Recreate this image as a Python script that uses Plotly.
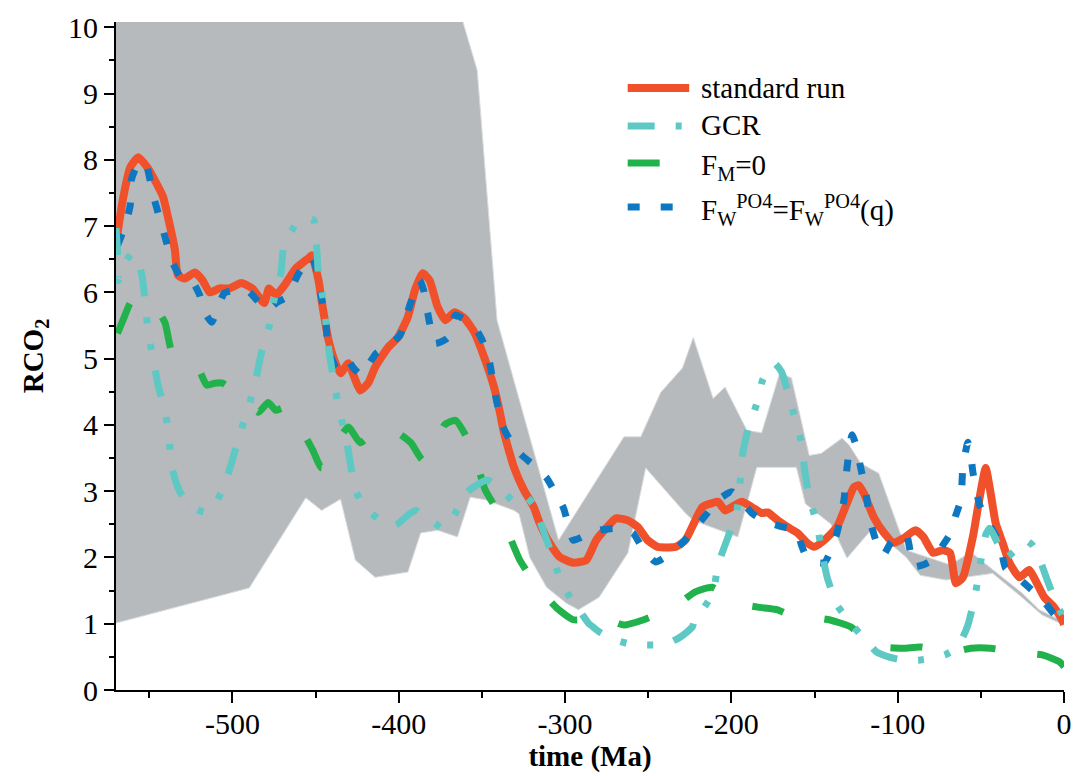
import plotly.graph_objects as go

# ---------------- data (time in Ma, values RCO2) ----------------
std_t = [-570.0,-565.6,-561.4,-556.6,-551.3,-547.7,-541.7,-538.7,-534.6,-532.8,-528.6,-522.6,-517.9,-513.7,-507.7,-501.8,-494.6,-488.1,-480.9,-478.0,-473.8,-467.8,-461.9,-454.1,-452.3,-448.2,-446.4,-442.2,-438.0,-435.0,-430.3,-426.1,-423.1,-418.4,-414.2,-406.4,-400.5,-394.5,-390.3,-385.6,-381.4,-376.6,-371.9,-366.5,-360.5,-354.6,-348.6,-342.7,-339.1,-336.7,-330.7,-324.8,-318.8,-315.3,-309.3,-303.3,-295.0,-287.2,-281.3,-275.3,-269.4,-262.2,-256.3,-250.3,-244.3,-233.6,-227.7,-221.7,-217.5,-211.6,-208.0,-203.8,-197.9,-193.7,-187.7,-181.8,-178.2,-172.2,-166.3,-160.3,-154.4,-150.2,-144.2,-136.5,-130.5,-126.3,-123.4,-120.4,-114.4,-108.5,-102.5,-96.5,-89.4,-84.6,-78.7,-72.7,-68.5,-65.0,-60.8,-54.8,-50.7,-47.1,-44.1,-41.1,-36.9,-32.8,-26.8,-20.9,-17.3,-11.9,-6.0,-1.2,0.0]
std_v = [6.74,7.44,7.89,8.04,7.89,7.74,7.44,7.13,6.64,6.26,6.21,6.30,6.18,6.00,6.06,6.06,6.14,6.06,5.84,6.06,5.96,6.14,6.36,6.52,6.56,6.18,5.88,5.28,4.93,4.78,4.93,4.68,4.52,4.63,4.87,5.17,5.32,5.63,6.03,6.29,6.18,5.78,5.58,5.70,5.61,5.40,5.02,4.57,4.18,3.88,3.36,3.02,2.76,2.52,2.22,2.01,1.92,1.96,2.26,2.44,2.59,2.56,2.46,2.26,2.16,2.16,2.26,2.56,2.76,2.82,2.84,2.71,2.79,2.84,2.76,2.67,2.68,2.56,2.46,2.37,2.22,2.16,2.26,2.46,2.82,3.06,3.09,2.97,2.61,2.38,2.22,2.29,2.41,2.31,2.07,2.11,2.07,1.61,1.70,2.31,2.91,3.35,2.97,2.52,2.22,1.92,1.70,1.81,1.66,1.40,1.25,1.06,0.99]

gcr_t = [-570.0,-569.1,-568.5,-564.4,-560.2,-556.6,-554.2,-552.4,-550.7,-547.7,-544.7,-540.5,-538.1,-536.4,-534.0,-531.6,-525.6,-516.7,-510.7,-504.8,-500.0,-495.8,-490.5,-485.7,-482.7,-478.0,-475.0,-470.8,-469.0,-464.2,-460.1,-455.3,-451.1,-449.3,-448.2,-445.2,-443.4,-442.2,-440.4,-438.6,-436.2,-432.0,-429.1,-426.1,-421.3,-416.6,-409.4,-401.7,-394.5,-389.7,-383.8,-378.4,-373.6,-367.7,-358.7,-346.8,-337.9,-330.7,-324.8,-318.8,-315.3,-309.3,-303.3,-296.2,-290.2,-286.0,-278.3,-269.4,-260.4,-252.7,-245.5,-237.8,-230.6,-223.5,-221.7,-216.3,-211.0,-208.0,-202.0,-196.7,-194.9,-193.7,-190.1,-184.1,-181.2,-177.0,-174.0,-169.8,-166.3,-162.1,-157.9,-156.1,-153.2,-148.4,-146.0,-142.4,-136.5,-131.1,-126.3,-119.2,-112.6,-105.5,-96.5,-87.6,-78.7,-71.5,-65.0,-60.8,-57.8,-53.6,-50.7,-47.1,-44.7,-41.7,-38.1,-35.2,-29.2,-23.2,-19.1,-16.1,-10.1,-4.2,0.0]
gcr_v = [6.97,6.61,6.18,6.46,6.59,6.46,6.23,5.84,5.40,5.01,4.60,4.21,3.79,3.36,3.14,2.99,2.79,2.68,2.79,3.09,3.47,3.85,4.25,4.71,5.08,5.48,5.88,6.30,6.74,6.94,7.09,7.13,7.09,6.67,6.23,5.88,5.46,5.17,4.87,4.63,4.25,3.85,3.42,3.02,2.79,2.67,2.53,2.49,2.64,2.71,2.59,2.52,2.44,2.59,2.99,3.17,3.02,2.84,2.94,2.79,2.56,2.14,1.70,1.36,1.16,1.01,0.86,0.75,0.69,0.68,0.68,0.71,0.80,0.95,1.09,1.25,1.46,1.89,2.31,2.71,3.09,3.50,3.92,4.37,4.68,4.86,4.93,4.80,4.52,4.12,3.74,3.35,2.91,2.49,2.14,1.70,1.28,1.10,0.95,0.75,0.57,0.50,0.45,0.45,0.48,0.53,0.63,0.80,0.98,1.40,1.84,2.34,2.44,2.31,2.11,1.99,2.11,2.26,2.19,2.07,1.66,1.28,1.09]

fm0_t = [-569.1,-565.0,-561.4,-557.2,-552.4,-546.5,-540.5,-536.4,-528.6,-520.9,-515.5,-510.7,-505.9,-496.5,-484.5,-478.5,-473.8,-470.2,-467.2,-460.1,-451.7,-446.4,-441.6,-436.2,-430.3,-423.1,-415.4,-403.5,-392.7,-385.6,-379.0,-372.5,-365.9,-355.8,-348.0,-337.9,-327.2,-315.9,-305.1,-295.0,-277.1,-264.6,-252.7,-235.4,-221.7,-211.6,-196.1,-184.1,-172.2,-162.1,-153.2,-141.2,-128.1,-119.2,-109.7,-96.5,-86.4,-67.9,-56.0,-44.1,-26.2,-13.1,-2.4,0.0]
fm0_v = [5.38,5.63,5.84,5.91,5.88,5.78,5.54,5.10,4.95,4.87,4.60,4.63,4.63,4.45,4.19,4.34,4.22,4.25,4.22,4.00,3.62,3.35,3.50,3.77,3.97,3.73,3.89,3.92,3.73,3.47,3.60,4.00,4.07,3.65,3.02,2.59,1.96,1.54,1.24,1.06,1.09,0.98,1.06,1.24,1.48,1.55,1.31,1.25,1.21,1.10,1.10,1.06,0.95,0.75,0.65,0.63,0.65,0.57,0.63,0.63,0.56,0.53,0.42,0.35]

po4_t = [-569.1,-564.4,-561.4,-560.8,-557.2,-552.4,-547.7,-541.7,-535.8,-530.4,-524.4,-519.7,-516.7,-512.5,-508.9,-504.8,-497.6,-491.1,-485.1,-479.1,-473.2,-467.2,-460.1,-452.3,-449.3,-447.0,-444.0,-442.2,-437.4,-434.4,-431.5,-427.3,-422.5,-418.4,-413.6,-406.4,-399.3,-393.3,-387.4,-385.0,-382.6,-378.4,-374.8,-370.7,-365.9,-359.9,-354.0,-349.8,-345.7,-342.1,-337.9,-333.1,-327.2,-318.8,-311.1,-305.1,-301.0,-298.0,-295.0,-287.2,-279.5,-269.4,-259.2,-252.7,-245.5,-237.8,-229.4,-221.7,-214.5,-208.0,-199.6,-193.7,-187.7,-183.0,-178.2,-169.2,-160.9,-157.9,-154.9,-150.2,-144.2,-140.0,-136.5,-132.3,-130.5,-127.5,-125.1,-122.8,-119.2,-116.2,-112.6,-108.5,-104.3,-100.7,-94.8,-92.4,-90.6,-84.6,-77.5,-72.7,-67.9,-65.0,-62.0,-60.8,-57.8,-56.0,-54.8,-50.7,-44.7,-38.7,-35.2,-29.2,-23.8,-17.3,-11.3,-5.4,0.0]
po4_v = [6.71,7.01,7.32,7.69,7.92,7.96,7.47,6.94,6.44,6.21,6.18,5.96,5.70,5.55,5.76,5.99,6.03,6.03,5.88,5.73,5.85,5.93,6.29,6.53,6.33,5.99,5.58,5.13,4.86,4.95,5.01,4.86,4.75,4.90,5.08,5.20,5.35,5.81,6.18,6.03,5.69,5.23,5.25,5.31,5.66,5.58,5.46,5.28,4.98,4.48,4.00,3.77,3.57,3.39,3.20,2.94,2.75,2.49,2.26,2.34,2.41,2.44,2.37,2.11,1.93,2.04,2.22,2.44,2.67,2.87,2.99,2.84,2.67,2.59,2.53,2.46,2.41,2.19,2.01,1.93,1.92,2.11,2.37,2.87,3.35,3.85,3.70,3.42,2.99,2.52,2.22,2.04,2.22,2.31,2.34,2.08,1.86,1.89,1.99,2.19,2.38,2.64,2.87,3.36,3.74,3.54,3.29,2.79,2.49,2.22,1.84,1.73,1.61,1.46,1.31,1.13,1.03]

band_up_t = [-570.0,-364.0,-352.8,-340.9,-303.9,-264.6,-254.5,-242.5,-229.4,-222.9,-211.0,-203.8,-190.7,-181.8,-171.0,-163.9,-153.2,-146.0,-133.5,-129.3,-122.2,-111.4,-94.8,-68.5,-56.0,-25.0,-14.9,0.0]
band_up_v = [10.3,10.3,9.35,5.58,2.26,3.82,3.82,4.49,4.86,5.32,4.40,4.57,3.92,3.88,4.78,4.71,3.54,3.57,3.80,3.70,3.42,3.27,2.11,1.89,2.08,1.46,1.21,1.03]
band_lo_t = [-570.0,-489.9,-455.9,-446.4,-435.0,-426.1,-414.2,-394.5,-386.8,-376.6,-364.7,-357.0,-348.0,-330.7,-327.7,-321.2,-311.1,-299.2,-292.0,-279.5,-262.2,-251.5,-227.7,-223.0,-196.1,-184.7,-160.9,-155.5,-140.0,-130.5,-114.4,-106.7,-94.8,-86.4,-70.9,-42.9,-26.8,-13.1,0.0]
band_lo_v = [1.01,1.54,2.90,2.71,2.88,1.96,1.70,1.78,2.37,2.41,2.31,2.91,2.87,2.71,2.66,2.00,1.55,1.31,1.21,1.40,2.07,3.35,2.67,2.56,2.31,3.36,3.36,2.81,2.50,1.99,2.46,2.26,2.00,1.73,1.66,1.76,1.43,1.13,0.98]

x_ticks = [-500, -400, -300, -200, -100, 0]
y_ticks = [0, 1, 2, 3, 4, 5, 6, 7, 8, 9, 10]

# ---------------- styles ----------------
RED = "#f0512b"
CYAN = "#5ec8c4"
GREEN = "#22b24c"
BLUE = "#0d78c1"
GRAY = "#b6babc"
FONT = "Liberation Serif"
DASH_GCR = "27px,21px,6px,21px,6px,21px"
DASH_FM = "32px,42px"
DASH_PO4 = "12px,21px"
SMOOTH = 0.5

fig = go.Figure()

fig.add_trace(go.Scatter(
    x=band_up_t + band_lo_t[::-1], y=band_up_v + band_lo_v[::-1],
    mode="lines", fill="toself", fillcolor=GRAY,
    line=dict(color="#d9dcdd", width=1), hoverinfo="skip", showlegend=False))

fig.add_trace(go.Scatter(x=std_t, y=std_v, mode="lines", name="standard run",
                         line=dict(color=RED, width=8, shape="spline", smoothing=SMOOTH),
                         showlegend=False))
fig.add_trace(go.Scatter(x=po4_t, y=po4_v, mode="lines",
                         name="F<sub>W</sub><sup>PO4</sup>=F<sub>W</sub><sup>PO4</sup>(q)",
                         line=dict(color=BLUE, width=7, dash=DASH_PO4, shape="spline", smoothing=SMOOTH),
                         showlegend=False))
fig.add_trace(go.Scatter(x=fm0_t, y=fm0_v, mode="lines", name="F<sub>M</sub>=0",
                         line=dict(color=GREEN, width=7, dash=DASH_FM, shape="spline", smoothing=SMOOTH),
                         showlegend=False))
fig.add_trace(go.Scatter(x=gcr_t, y=gcr_v, mode="lines", name="GCR",
                         line=dict(color=CYAN, width=7, dash=DASH_GCR, shape="spline", smoothing=SMOOTH),
                         showlegend=False))

# ---------------- manual legend ----------------
PL, PR, PT, PB = 116, 1072, 22, 690
def px(xp):
    return (xp - PL) / (PR - PL)
def py(yp):
    return (PB - yp) / (PB - PT)

legend_items = [
    ("standard run", RED, 8, "solid", 88, 88),
    ("GCR", CYAN, 7, DASH_GCR, 126, 125),
    ("F<sub>M</sub>=0", GREEN, 7, DASH_FM, 163, 167),
    ("F<sub>W</sub><sup>PO4</sup>=F<sub>W</sub><sup>PO4</sup>(q)", BLUE, 7, DASH_PO4, 207, 210),
]
for label, col, w, dash, ly, ty in legend_items:
    fig.add_shape(type="line", xref="paper", yref="paper",
                  x0=px(632), x1=px(694), y0=py(ly), y1=py(ly),
                  line=dict(color=col, width=w, dash=dash))
    fig.add_annotation(xref="paper", yref="paper", x=px(704), y=py(ty),
                       text=label, showarrow=False, xanchor="left", yanchor="middle",
                       font=dict(family=FONT, size=29, color="black"))

fig.update_layout(
    width=1079, height=776,
    margin=dict(l=PL, r=1079 - PR, t=PT, b=776 - PB),
    paper_bgcolor="white", plot_bgcolor="white",
    font=dict(family=FONT, size=30, color="black"),
    showlegend=False,
)
fig.update_xaxes(
    range=[-570, 0], tickvals=x_ticks, ticktext=[str(v) for v in x_ticks],
    tickfont=dict(family=FONT, size=30),
    ticklabeloverflow="allow",
    showgrid=False, zeroline=False, showline=True, linecolor="black", linewidth=2,
    ticks="outside", ticklen=11, tickwidth=2, tickcolor="black",
    ticklabelstandoff=-5,
    minor=dict(dtick=50, tick0=0, ticks="outside", ticklen=6, tickwidth=2, tickcolor="black"),
    title=dict(text="<b>time (Ma)</b>", font=dict(family=FONT, size=29), standoff=2),
)
fig.update_yaxes(
    range=[0, 10.08], tickvals=y_ticks, ticktext=[str(v) for v in y_ticks],
    tickfont=dict(family=FONT, size=30),
    showgrid=False, zeroline=False, showline=True, linecolor="black", linewidth=2,
    ticks="outside", ticklen=10, tickwidth=2, tickcolor="black",
    minor=dict(dtick=0.5, tick0=0, ticks="outside", ticklen=5, tickwidth=2, tickcolor="black"),
    title=dict(text="<b>RCO<sub>2</sub></b>", font=dict(family=FONT, size=29), standoff=16),
)

fig.write_html("out.html")
